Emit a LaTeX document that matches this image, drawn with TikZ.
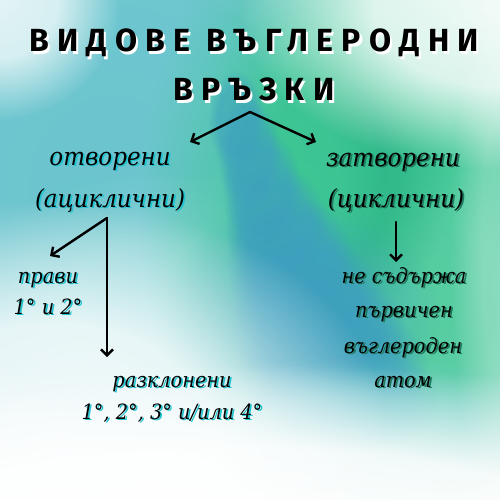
\documentclass[tikz,border=0pt]{standalone}
\usepackage{fontspec}
\setmainfont{DejaVu Serif}
\newfontfamily\titlefont[LetterSpace=26]{Fira Sans}
\newfontfamily\bodyfont[FakeStretch=0.92]{DejaVu Serif}
\usetikzlibrary{arrows.meta,fadings}
\pgfdeclareradialshading{blobshade}{\pgfpointorigin}{color(0bp)=(pgftransparent!0); color(12bp)=(pgftransparent!10); color(25bp)=(pgftransparent!100); color(50bp)=(pgftransparent!100)}
\pgfdeclarefading{blobfade}{\pgfuseshading{blobshade}}
\pgfdeclareradialshading{hardshade}{\pgfpointorigin}{color(0bp)=(pgftransparent!0); color(17bp)=(pgftransparent!0); color(25bp)=(pgftransparent!100); color(50bp)=(pgftransparent!100)}
\pgfdeclarefading{hardfade}{\pgfuseshading{hardshade}}
\definecolor{bgbase}{HTML}{EEF1F1}
\definecolor{tealA}{HTML}{67C3CD}
\definecolor{tealB}{HTML}{6DC6CF}
\definecolor{tealD}{HTML}{93D7DA}
\definecolor{tealE}{HTML}{7ACDD0}
\definecolor{greenA}{HTML}{3FC796}
\definecolor{greenB}{HTML}{2BB586}
\definecolor{greenC}{HTML}{5CCFA5}
\definecolor{blueS}{HTML}{3E9FC0}
\definecolor{shcyan}{HTML}{1FC4D2}
\definecolor{shgreen}{HTML}{1F7A60}
\newcommand\blob[6]{\fill[#5, path fading=blobfade, fill opacity=#6] (#1,#2) ellipse [x radius=#3pt*2, y radius=#4pt*2];}
\newcommand\hblob[6]{\fill[#5, path fading=hardfade, fill opacity=#6] (#1,#2) ellipse [x radius=#3pt*2, y radius=#4pt*2];}
\newcommand\shtxt[2]{\makebox[0pt][l]{\hspace*{1.8pt}\raisebox{-1.4pt}{\color{#1}#2}}#2}
\newcommand\ttxt[1]{\makebox[0pt][l]{\hspace*{2.2pt}\raisebox{-2.2pt}{\color{white}#1}}#1}
\tikzset{
  title/.style={font=\titlefont\bfseries\fontsize{32}{36}\selectfont, anchor=base, inner sep=0pt},
  body/.style={font=\bodyfont\itshape\fontsize{25}{30}\selectfont, anchor=base, inner sep=0pt},
  small/.style={font=\bodyfont\itshape\fontsize{21}{25}\selectfont, anchor=base, inner sep=0pt},
  arr/.style={line width=2.4pt, line cap=round, -{Straight Barb[length=6pt,width=12pt]}},
}
\begin{document}
\begin{tikzpicture}[x=1pt,y=-1pt]
\useasboundingbox (0,0) rectangle (500,500);
\begin{scope}
\clip (0,0) rectangle (500,500);
\fill[bgbase] (0,0) rectangle (500,500);
\blob{110}{190}{190}{220}{tealA}{1}
\blob{150}{90}{150}{90}{tealB}{0.9}
\blob{170}{310}{110}{70}{tealD}{0.8}
\blob{400}{210}{130}{180}{greenA}{1}
\blob{410}{120}{100}{80}{greenA}{0.8}
\blob{440}{300}{70}{80}{greenC}{0.8}
\blob{350}{180}{50}{70}{greenB}{0.8}
\blob{305}{190}{40}{70}{greenA}{0.9}
\blob{300}{320}{70}{60}{blueS}{0.5}
\hblob{236}{120}{14}{25}{blueS}{0.55}
\hblob{249}{155}{16}{28}{blueS}{0.55}
\hblob{262}{190}{20}{30}{blueS}{0.55}
\hblob{276}{225}{26}{30}{blueS}{0.55}
\hblob{290}{260}{32}{32}{blueS}{0.6}
\hblob{304}{295}{38}{32}{blueS}{0.6}
\hblob{318}{330}{44}{32}{blueS}{0.6}
\hblob{331}{365}{48}{32}{blueS}{0.6}
\hblob{345}{400}{48}{28}{blueS}{0.55}
\blob{360}{435}{120}{40}{tealE}{0.7}
\blob{250}{525}{320}{80}{white}{1}
\blob{50}{440}{170}{120}{white}{0.9}
\blob{500}{10}{130}{80}{white}{0.9}
\blob{510}{240}{30}{160}{white}{0.3}
\blob{0}{0}{60}{60}{white}{0.8}
\end{scope}
% title
\node[title] (t1) at (254,52) {\ttxt{ВИДОВЕ ВЪГЛЕРОДНИ}};
\node[title] (t2) at (254,101) {\ttxt{ВРЪЗКИ}};
% level 1
\node[body] (open1) at (110,165) {\shtxt{shcyan}{отворени}};
\node[body] (open2) at (110,207) {\shtxt{shcyan}{(ациклични)}};
\node[body] (closed1) at (393,166) {\shtxt{shgreen}{затворени}};
\node[body] (closed2) at (396,207) {\shtxt{shgreen}{(циклични)}};
% right list
\node[small] (r1) at (404,283) {\shtxt{shgreen}{не съдържа}};
\node[small] (r2) at (404,317) {\shtxt{shgreen}{първичен}};
\node[small] (r3) at (403,353) {\shtxt{shgreen}{въглероден}};
\node[small] (r4) at (403,387) {\shtxt{shgreen}{атом}};
% left lists
\node[small] (s1) at (48,283) {\shtxt{shcyan}{прави}};
\node[small] (s2) at (48,314) {\shtxt{shcyan}{1° и 2°}};
\node[small] (b1) at (172,387) {\shtxt{shcyan}{разклонени}};
\node[small] (b2) at (172,419) {\shtxt{shcyan}{1°, 2°, 3° и/или 4°}};
% connectors
\coordinate (top) at (250,112);
\coordinate (topL) at (190,142);
\coordinate (topR) at (316,142);
\coordinate (lsplit) at (107,218);
\coordinate (lL) at (50,256);
\coordinate (lD) at (107,357);
\coordinate (rs) at (396,222);
\coordinate (rD) at (396,262);
\draw[arr] (top) -- (topL);
\draw[arr] (top) -- (topR);
\draw[arr] (lsplit) -- (lL);
\draw[arr] (lsplit) -- (lD);
\draw[arr] (rs) -- (rD);
\end{tikzpicture}
\end{document}
